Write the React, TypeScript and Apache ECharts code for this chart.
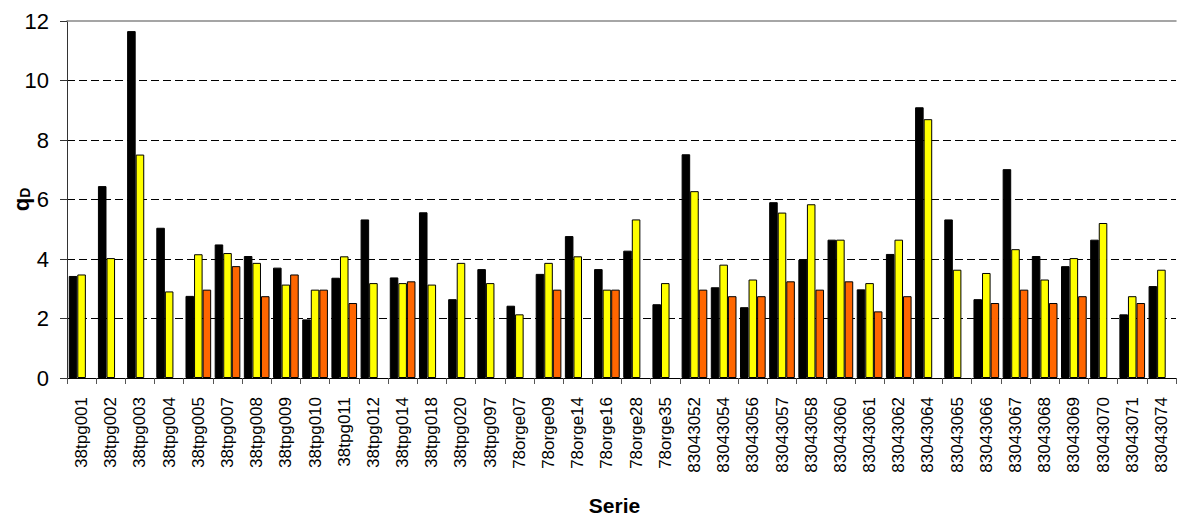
import React, { useEffect, useRef } from "react";
import * as echarts from "echarts";

const categories = [
  "38tpg001", "38tpg002", "38tpg003", "38tpg004", "38tpg005", "38tpg007", "38tpg008", "38tpg009",
  "38tpg010", "38tpg011", "38tpg012", "38tpg014", "38tpg018", "38tpg020", "38tpg097", "78orge07",
  "78orge09", "78orge14", "78orge16", "78orge28", "78orge35", "83043052", "83043054", "83043056",
  "83043057", "83043058", "83043060", "83043061", "83043062", "83043064", "83043065", "83043066",
  "83043067", "83043068", "83043069", "83043070", "83043071", "83043074",
];

const blackValues = [
  3.43, 6.45, 11.66, 5.05, 2.76, 4.49, 4.1, 3.71,
  1.97, 3.37, 5.33, 3.38, 5.57, 2.65, 3.66, 2.43,
  3.5, 4.77, 3.66, 4.28, 2.48, 7.52, 3.05, 2.38,
  5.91, 3.98, 4.65, 2.98, 4.17, 9.1, 5.33, 2.65,
  7.02, 4.1, 3.76, 4.65, 2.14, 3.09,
];

const yellowValues = [
  3.48, 4.03, 7.51, 2.91, 4.16, 4.2, 3.87, 3.14,
  2.97, 4.09, 3.19, 3.19, 3.14, 3.87, 3.19, 2.14,
  3.87, 4.09, 2.97, 5.33, 3.19, 6.28, 3.81, 3.31,
  5.56, 5.84, 4.65, 3.19, 4.65, 8.7, 3.64, 3.53,
  4.33, 3.31, 4.03, 5.21, 2.75, 3.64,
];

const orangeValues: (number | null)[] = [
  null, null, null, null, 2.97, 3.76, 2.75, 3.48,
  2.97, 2.52, null, 3.25, null, null, null, null,
  2.97, null, 2.97, null, null, 2.97, 2.75, 2.75,
  3.25, 2.97, 3.25, 2.24, 2.75, null, null, 2.52,
  2.97, 2.52, 2.75, null, 2.52, null,
];

const yTicks = { min: 0, max: 12, interval: 2 };

const FONT = "'Liberation Sans', Arial, sans-serif";

export default function App() {
  const ref = useRef<HTMLDivElement>(null);

  useEffect(() => {
    document.body.style.margin = "0";
    if (!ref.current) return;
    const chart = echarts.init(ref.current, null, { renderer: "svg" });

    const barStyle = (color: string) => ({
      color,
      borderColor: "#000",
      borderWidth: 1,
    });

    chart.setOption({
      animation: false,
      backgroundColor: "#fff",
      textStyle: { fontFamily: FONT },
      grid: {
        left: 67,
        right: 3,
        top: 21,
        bottom: 139,
        containLabel: false,
        outerBoundsMode: "none",
      },
      xAxis: [
        {
          type: "category",
          data: categories,
          boundaryGap: true,
          name: "Serie",
          nameLocation: "middle",
          nameGap: 117,
          nameMoveOverlap: false,
          nameTextStyle: {
            fontFamily: FONT,
            fontSize: 21,
            fontWeight: "bold",
            color: "#000",
            padding: [0, 14, 0, 0],
          },
          axisLine: { show: true, lineStyle: { color: "#000", width: 1 } },
          axisTick: { show: true, length: 6, lineStyle: { color: "#555" } },
          axisLabel: {
            interval: 0,
            rotate: 90,
            margin: 19,
            fontSize: 17,
            color: "#000",
            fontFamily: FONT,
          },
          splitLine: { show: false },
        },
        {
          type: "category",
          data: categories,
          position: "top",
          axisLine: { show: true, lineStyle: { color: "#888", width: 1.5 } },
          axisTick: { show: false },
          axisLabel: { show: false },
          splitLine: { show: false },
        },
      ],
      yAxis: {
        type: "value",
        min: yTicks.min,
        max: yTicks.max,
        interval: yTicks.interval,
        name: "{q|q}{d|D}",
        nameLocation: "middle",
        nameRotate: 90,
        nameGap: 35,
        nameMoveOverlap: false,
        nameTextStyle: {
          rich: {
            q: { fontSize: 22, fontWeight: "bold", color: "#000", fontFamily: FONT, verticalAlign: "bottom", lineHeight: 23 },
            d: { fontSize: 14, fontWeight: "bold", color: "#000", fontFamily: FONT, verticalAlign: "bottom", lineHeight: 23 },
          },
        },
        axisLine: { show: true, lineStyle: { color: "#333", width: 1 } },
        axisTick: { show: true, length: 7, lineStyle: { color: "#333" } },
        axisLabel: { margin: 18, fontSize: 22, color: "#000", fontFamily: FONT },
        splitLine: {
          show: true,
          showMinLine: false,
          showMaxLine: false,
          lineStyle: { color: "#000", width: 1, type: [8, 4] },
        },
      },
      series: [
        {
          type: "bar",
          name: "black",
          data: blackValues,
          barGap: "0%",
          barCategoryGap: "12%",
          itemStyle: barStyle("#000000"),
        },
        {
          type: "bar",
          name: "yellow",
          data: yellowValues,
          barGap: "0%",
          barCategoryGap: "12%",
          itemStyle: barStyle("#FFFF00"),
        },
        {
          type: "bar",
          name: "orange",
          data: orangeValues,
          barGap: "0%",
          barCategoryGap: "12%",
          itemStyle: barStyle("#FF6600"),
        },
      ],
    });

    return () => chart.dispose();
  }, []);

  return <div ref={ref} style={{ width: 1179, height: 517 }} />;
}
